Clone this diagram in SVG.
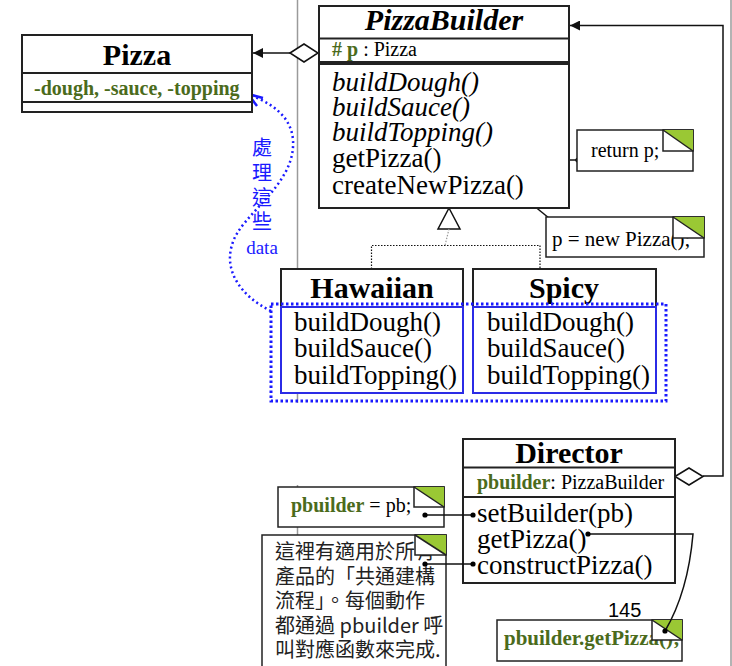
<svg xmlns="http://www.w3.org/2000/svg" width="732" height="666" viewBox="0 0 732 666">
<defs>
<style>
.box{fill:#fff;stroke:#222;stroke-width:2}
.ln{stroke:#222;stroke-width:2;fill:none}
.conn{stroke:#111;stroke-width:1.5;fill:none}
.t{font-family:"Liberation Serif","Times New Roman",serif;fill:#000}
.title{font-size:30px;font-weight:bold;text-anchor:middle}
.meth{font-size:27px}
.green{fill:#4b6b1c;font-weight:bold}
.note{fill:#fff;stroke:#222;stroke-width:1.5}
.fold{fill:#fff;stroke:#222;stroke-width:1.5}
.foldg{fill:#9ac834;stroke:none}
.dot{fill:#000}
.cjk{font-family:"Noto Sans CJK TC","Noto Sans CJK SC",sans-serif}
</style>
<marker id="fillArrow" markerWidth="12" markerHeight="10" refX="10" refY="5" orient="auto" markerUnits="userSpaceOnUse">
<path d="M0,0 L10,5 L0,10 Z" fill="#111"/>
</marker>
</defs>
<rect width="732" height="666" fill="#fff"/>
<!-- background gray guide lines -->
<line x1="297.5" y1="0" x2="297.5" y2="403" stroke="#9a9a9a" stroke-width="1.5"/>
<line x1="297.5" y1="485" x2="297.5" y2="666" stroke="#9a9a9a" stroke-width="1.5"/>
<line x1="731" y1="0" x2="731" y2="666" stroke="#9a9a9a" stroke-width="1.5"/>

<g id="connectors">
<!-- PizzaBuilder aggregates Pizza -->
<line class="conn" x1="290" y1="53" x2="253" y2="53" marker-end="url(#fillArrow)"/>
<path d="M290,53 L304,44 L318,53 L304,62 Z" fill="#fff" stroke="#111" stroke-width="1.5"/>
<!-- Director aggregates PizzaBuilder -->
<polyline class="conn" points="703,476 723,476 723,25.5 570,25.5" marker-end="url(#fillArrow)"/>
<path d="M675,476.5 L689,468 L703,476.5 L689,485 Z" fill="#fff" stroke="#111" stroke-width="1.5"/>
<!-- generalization -->
<path d="M449,208 L438,229 L460,229 Z" fill="#fff" stroke="#111" stroke-width="1.5"/>
<line x1="449" y1="229" x2="445" y2="245.5" stroke="#999" stroke-width="1.2" stroke-dasharray="1.5,1.5"/>
<polyline points="371.5,269 371.5,245.5 540,245.5 540,269" fill="none" stroke="#111" stroke-width="1.2" stroke-dasharray="1.5,1.5"/>
<!-- note links -->
<line class="conn" x1="453" y1="160" x2="578" y2="160"/>
<circle class="dot" cx="453" cy="160" r="2.6"/>
<circle class="dot" cx="578" cy="160" r="2.6"/>
<line class="conn" x1="512" y1="188" x2="560" y2="227"/>
<circle class="dot" cx="512" cy="188" r="2.6"/>
<circle class="dot" cx="560" cy="227" r="2.6"/>
<!-- blue dotted curve -->
<path d="M271,311 C240,296 224,270 232,245 C240,214 296,186 293,140 C291,114 268,102 250,95" fill="none" stroke="#1a1aff" stroke-width="2.5" stroke-dasharray="2,3"/>
<polyline points="257,106 248,94 263,98" fill="none" stroke="#1a1aff" stroke-width="2.5"/>
</g>

<g id="Pizza">
<rect class="box" x="22" y="35" width="230" height="77"/>
<line class="ln" x1="22" y1="73" x2="252" y2="73"/>
<line class="ln" x1="22" y1="102" x2="252" y2="102"/>
<text class="t title" x="137" y="65">Pizza</text>
<text class="t green" x="34" y="95" font-size="20">-dough, -sauce, -topping</text>
</g>

<g id="PizzaBuilder">
<rect class="box" x="319" y="6" width="250" height="56"/>
<line class="ln" x1="319" y1="38.5" x2="569" y2="38.5"/>
<rect class="box" x="319" y="64" width="250" height="144"/>
<text class="t title" x="444" y="30" font-style="italic">PizzaBuilder</text>
<text class="t" x="332" y="56" font-size="20"><tspan class="green">#</tspan> <tspan class="green">p</tspan> : Pizza</text>
<text class="t meth" font-style="italic" x="332" y="91">buildDough()</text>
<text class="t meth" font-style="italic" x="332" y="116">buildSauce()</text>
<text class="t meth" font-style="italic" x="332" y="141">buildTopping()</text>
<text class="t meth" x="332" y="167">getPizza()</text>
<text class="t meth" x="332" y="194">createNewPizza()</text>
</g>

<g id="note-return">
<rect class="note" x="577" y="130" width="116" height="41"/>
<text class="t" x="591" y="157" font-size="20">return p;</text>
<rect class="fold" x="663" y="130" width="30" height="21"/>
<path class="foldg" d="M663,130 L693,130 L693,151 Z"/>
<path d="M663,130 L693,151" stroke="#222" stroke-width="1.5"/>
</g>

<g id="note-new">
<rect class="note" x="546" y="217" width="158" height="40"/>
<text class="t" x="552" y="246" font-size="21">p = new Pizza();</text>
<rect class="fold" x="673" y="217" width="31" height="21"/>
<path class="foldg" d="M673,217 L704,217 L704,238 Z"/>
<path d="M673,217 L704,238" stroke="#222" stroke-width="1.5"/>
</g>

<g id="Hawaiian">
<rect class="box" x="281" y="269" width="182" height="124"/>
<rect x="281" y="307" width="182" height="86" fill="none" stroke="#2b2be6" stroke-width="2"/>
<text class="t title" x="372" y="298">Hawaiian</text>
<text class="t meth" x="294" y="331" font-size="27.5">buildDough()</text>
<text class="t meth" x="294" y="357" font-size="27.5">buildSauce()</text>
<text class="t meth" x="294" y="384" font-size="27.5">buildTopping()</text>
</g>

<g id="Spicy">
<rect class="box" x="473" y="269" width="183" height="124"/>
<rect x="473" y="307" width="183" height="86" fill="none" stroke="#2b2be6" stroke-width="2"/>
<text class="t title" x="564" y="298">Spicy</text>
<text class="t meth" x="487" y="331" font-size="27.5">buildDough()</text>
<text class="t meth" x="487" y="357" font-size="27.5">buildSauce()</text>
<text class="t meth" x="487" y="384" font-size="27.5">buildTopping()</text>
</g>

<g id="highlight">
<rect x="271" y="304" width="395" height="97" fill="none" stroke="#1a1aff" stroke-width="3" stroke-dasharray="2.5,2.5"/>
<text font-size="20" fill="#1a1aff" text-anchor="middle" class="cjk"><tspan x="262" y="155">處</tspan><tspan x="262" y="180">理</tspan><tspan x="262" y="205">這</tspan><tspan x="262" y="229">些</tspan><tspan x="262" y="254" font-size="19" font-family="Liberation Serif, serif">data</tspan></text>
</g>

<g id="Director">
<rect class="box" x="463" y="439" width="212" height="144"/>
<line class="ln" x1="463" y1="467.5" x2="675" y2="467.5"/>
<line class="ln" x1="463" y1="497" x2="675" y2="497"/>
<text class="t title" x="569" y="463">Director</text>
<text class="t" x="477" y="489" font-size="20"><tspan class="green">pbuilder</tspan>: PizzaBuilder</text>
<text class="t meth" x="477" y="522">setBuilder(pb)</text>
<text class="t meth" x="477" y="548">getPizza()</text>
<text class="t meth" x="477" y="574">constructPizza()</text>
</g>

<g id="note-setbuilder">
<rect class="note" x="278" y="487" width="166" height="40"/>
<text class="t" x="291" y="512" font-size="20"><tspan class="green">pbuilder</tspan> = pb;</text>
<rect class="fold" x="414" y="487" width="30" height="20"/>
<path class="foldg" d="M414,487 L444,487 L444,507 Z"/>
<path d="M414,487 L444,507" stroke="#222" stroke-width="1.5"/>
</g>

<g id="note-construct">
<rect class="note" x="262" y="535" width="184" height="140"/>
<text class="cjk" font-size="20" fill="#222"><tspan x="275" y="559">這裡有適用於所有</tspan><tspan x="275" y="584">產品的「共通建構</tspan><tspan x="275" y="608">流程」。每個動作</tspan><tspan x="275" y="633">都通過 pbuilder 呼</tspan><tspan x="275" y="657">叫對應函數來完成.</tspan></text>
<rect class="fold" x="415" y="535" width="31" height="20"/>
<path class="foldg" d="M415,535 L446,535 L446,555 Z"/>
<path d="M415,535 L446,555" stroke="#222" stroke-width="1.5"/>
</g>

<g id="note-getpizza">
<rect class="note" x="497" y="620" width="185" height="41"/>
<text class="t green" x="504" y="645" font-size="21">pbuilder.getPizza();</text>
<rect class="fold" x="652" y="620" width="30" height="20"/>
<path class="foldg" d="M652,620 L682,620 L682,640 Z"/>
<path d="M652,620 L682,640" stroke="#222" stroke-width="1.5"/>
</g>
<text x="608" y="617" font-size="20" font-family="Liberation Sans, Arial, sans-serif" fill="#000">145</text>

<g id="connectors-director">
<line class="conn" x1="473" y1="515" x2="425" y2="515"/>
<circle class="dot" cx="473" cy="515" r="2.6"/>
<circle class="dot" cx="425" cy="515" r="2.6"/>
<line class="conn" x1="473" y1="564" x2="425" y2="564"/>
<circle class="dot" cx="473" cy="564" r="2.6"/>
<circle class="dot" cx="425" cy="564" r="2.6"/>
<path class="conn" d="M588,534 L693,534 Q688,592 665,631"/>
<circle class="dot" cx="588" cy="534" r="2.6"/>
<circle class="dot" cx="665" cy="631" r="2.6"/>
</g>
</svg>
